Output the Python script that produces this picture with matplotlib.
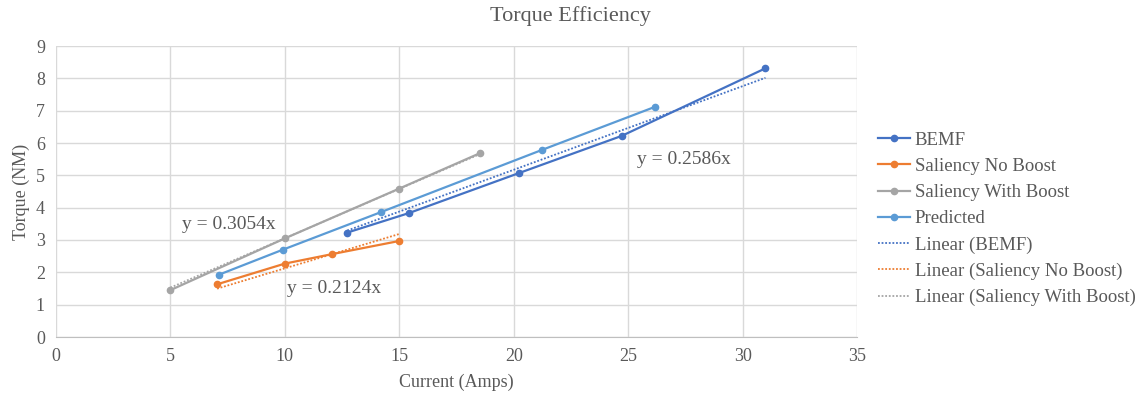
import numpy as np
import matplotlib.pyplot as plt

plt.rcParams['font.family'] = ['Liberation Serif', 'DejaVu Serif']

# measured points (Current in Amps, Torque in NM)
bemf_x = [12.73, 15.41, 20.23, 24.72, 31.0]
bemf_y = [3.23, 3.83, 5.07, 6.22, 8.31]
noboost_x = [7.04, 10.0, 12.04, 15.0]
noboost_y = [1.63, 2.27, 2.56, 2.97]
boost_x = [5.0, 10.0, 15.0, 18.54]
boost_y = [1.45, 3.05, 4.59, 5.69]
pred_x = [7.13, 9.91, 14.19, 21.25, 26.18]
pred_y = [1.93, 2.70, 3.86, 5.79, 7.12]

# trendline slopes (intercept fixed at zero)
slope_bemf = 0.2586
slope_noboost = 0.2124
slope_boost = 0.3054

c_bemf = '#4472C4'
c_orange = '#ED7D31'
c_gray = '#A5A5A5'
c_pred = '#5B9BD5'
txt = '#595959'

fig = plt.figure(figsize=(11.4, 3.95), dpi=100)
ax = fig.add_axes([56/1140, 1 - 337/395, (857-56)/1140, (337-46)/395])

ax.plot(bemf_x, bemf_y, '-o', color=c_bemf, lw=1.6, ms=4.5, label='BEMF')
ax.plot(noboost_x, noboost_y, '-o', color=c_orange, lw=1.6, ms=4.5, label='Saliency No Boost')
ax.plot(boost_x, boost_y, '-o', color=c_gray, lw=1.6, ms=4.5, label='Saliency With Boost')
ax.plot(pred_x, pred_y, '-o', color=c_pred, lw=1.6, ms=4.5, label='Predicted')

for xs, a, col, name in [(bemf_x, slope_bemf, c_bemf, 'Linear (BEMF)'),
                         (noboost_x, slope_noboost, c_orange, 'Linear (Saliency No Boost)'),
                         (boost_x, slope_boost, c_gray, 'Linear (Saliency With Boost)')]:
    xx = np.array([min(xs), max(xs)])
    ax.plot(xx, a * xx, linestyle=(0, (1, 1)), color=col, lw=1.3, label=name)

ax.text(5.5, 3.47, 'y = %.4fx' % slope_boost, fontsize=14, color=txt, va='center')
ax.text(10.1, 1.49, 'y = %.4fx' % slope_noboost, fontsize=14, color=txt, va='center')
ax.text(25.4, 5.48, 'y = %.4fx' % slope_bemf, fontsize=14, color=txt, va='center')

ax.set_xlim(0, 35)
ax.set_ylim(0, 9)
ax.set_xticks(range(0, 36, 5))
ax.set_yticks(range(0, 10))
ax.grid(True, color='#D9D9D9', lw=1)
ax.set_axisbelow(True)
for s in ['top', 'right', 'left']:
    ax.spines[s].set_visible(False)
ax.spines['bottom'].set_color('#BFBFBF')
ax.tick_params(length=0, labelsize=13, labelcolor=txt, pad=8)

ax.set_xlabel('Current (Amps)', fontsize=13, color=txt, labelpad=6)
ax.set_ylabel('Torque (NM)', fontsize=13, color=txt, labelpad=4)
fig.suptitle('Torque Efficiency', x=0.5, y=0.985, fontsize=16, color=txt)

leg = ax.legend(loc='center left', bbox_to_anchor=((878 - 56) / 801, (337 - 219) / 291),
                frameon=False, fontsize=13.5, handlelength=1.7, handletextpad=0.25,
                labelspacing=0.48, borderaxespad=0, borderpad=0)
for t in leg.get_texts():
    t.set_color(txt)

fig.savefig('out.png')
